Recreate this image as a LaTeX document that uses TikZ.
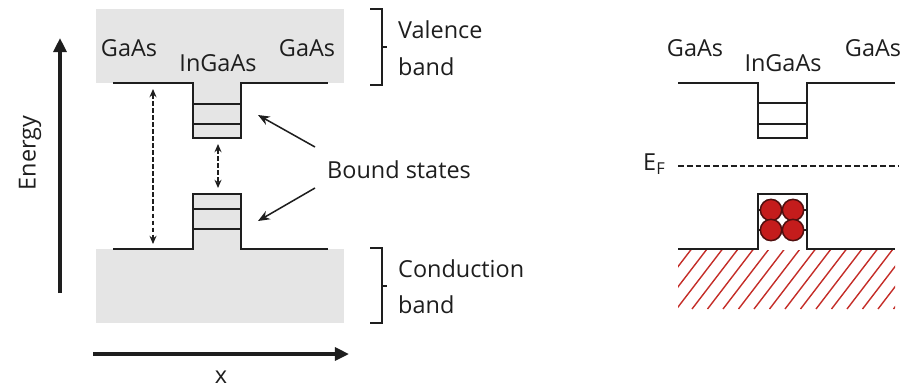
\documentclass[tikz,border=0pt]{standalone}
\usepackage{fontspec}
\setmainfont{Open Sans}
\usetikzlibrary{arrows.meta}
\definecolor{bandgray}{RGB}{229,229,229}
\definecolor{hatchred}{RGB}{196,45,40}
\definecolor{dotred}{RGB}{196,28,28}
\definecolor{dotedge}{RGB}{80,15,15}
\definecolor{ink}{RGB}{30,30,30}
\begin{document}
\begin{tikzpicture}[x=0.03cm,y=-0.03cm,
  lbl/.style={font=\fontsize{20}{24}\selectfont, inner sep=0pt, text=ink},
  bandline/.style={line width=1.8pt, draw=ink, line join=miter},
  levelline/.style={line width=1.5pt, draw=ink},
  axisarrow/.style={line width=2.7pt, draw=ink, -{Triangle[length=12pt,width=11pt]}},
  dasharrow/.style={line width=1.2pt, draw=ink, dash pattern=on 4pt off 2pt, {Stealth[length=7pt,width=6pt]}-{Stealth[length=7pt,width=6pt]}},
  pointer/.style={line width=1.3pt, draw=ink, -{Stealth[length=10pt,width=8pt]}},
  bracket/.style={line width=1.4pt, draw=ink},
  hatch/.style={line width=1.2pt, draw=hatchred},
  electron/.style={circle, minimum size=0.64cm, inner sep=0pt, fill=dotred, draw=dotedge, line width=1.3pt}
]
\useasboundingbox (0,0) rectangle (901,388);

% ---------- left panel ----------
\fill[bandgray] (96,9) rectangle (344,83);
\fill[bandgray] (193,83) rectangle (241,138);
\fill[bandgray] (96,249) rectangle (344,323);
\fill[bandgray] (193,194) rectangle (241,249);

\draw[bandline] (113,83) -- (193,83) -- (193,138) -- (241,138) -- (241,83) -- (328,83);
\draw[levelline] (193,104) -- (241,104);
\draw[levelline] (193,124) -- (241,124);

\draw[bandline] (113,249) -- (193,249) -- (193,194) -- (241,194) -- (241,249) -- (328,249);
\draw[levelline] (193,209) -- (241,209);
\draw[levelline] (193,229) -- (241,229);

\coordinate (gapT) at (153,89);
\coordinate (gapB) at (153,244);
\draw[dasharrow] (gapT) -- (gapB);
\coordinate (stT) at (218,144);
\coordinate (stB) at (218,188);
\draw[dasharrow] (stT) -- (stB);

\coordinate (eB) at (60,293);
\coordinate (eT) at (60,38);
\draw[axisarrow] (eB) -- (eT);
\coordinate (xL) at (93,354);
\coordinate (xR) at (349,354);
\draw[axisarrow] (xL) -- (xR);
\node[lbl, rotate=90] (energy) at (30,153) {Energy};
\node[lbl] (xlab) at (221,377) {x};

\node[lbl] (gaasL) at (129,48) {GaAs};
\node[lbl] (gaasR) at (307,48) {GaAs};
\node[lbl] (ingaas) at (218,63) {InGaAs};

\node[lbl, anchor=west] (bound) at (327,170) {Bound states};
\coordinate (wellT) at (258,115);
\coordinate (wellB) at (258,221);
\draw[pointer] (315,147) -- (wellT);
\draw[pointer] (315,188) -- (wellB);

\draw[bracket] (370,9) -- (382,9) -- (382,85) -- (370,85);
\draw[bracket] (382,47) -- (387,47);
\node[lbl, anchor=west] (val1) at (398,30) {Valence};
\node[lbl, anchor=west] (val2) at (398,67) {band};

\draw[bracket] (370,248) -- (382,248) -- (382,323) -- (370,323);
\draw[bracket] (382,286) -- (387,286);
\node[lbl, anchor=west] (con1) at (398,269) {Conduction};
\node[lbl, anchor=west] (con2) at (398,305) {band};

% ---------- right panel ----------
\node[lbl] (rgaasL) at (695,48) {GaAs};
\node[lbl] (ringaas) at (783,63) {InGaAs};
\node[lbl] (rgaasR) at (873,48) {GaAs};

\draw[bandline] (678,83) -- (758,83) -- (758,138) -- (807,138) -- (807,83) -- (895,83);
\draw[levelline] (758,103) -- (807,103);
\draw[levelline] (758,124) -- (807,124);

\node[lbl, anchor=west] (ef) at (643,164) {E\textsubscript{F}};
\draw[line width=1.5pt, draw=ink, dash pattern=on 5pt off 2.5pt] (678,166) -- (899,166);

\begin{scope}
  \clip (678,250) rectangle (895,309);
  \foreach \i in {0,...,20} {
    \draw[hatch] (630+\i*15.5,309) -- ++(46,-60);
  }
\end{scope}

\draw[bandline] (678,249) -- (758,249) -- (758,194) -- (807,194) -- (807,249) -- (895,249);
\draw[levelline] (758,210) -- (807,210);
\draw[levelline] (758,230) -- (807,230);
\node[electron] (e1) at (771,210) {};
\node[electron] (e2) at (793,210) {};
\node[electron] (e3) at (771,230) {};
\node[electron] (e4) at (793,230) {};
\end{tikzpicture}
\end{document}
